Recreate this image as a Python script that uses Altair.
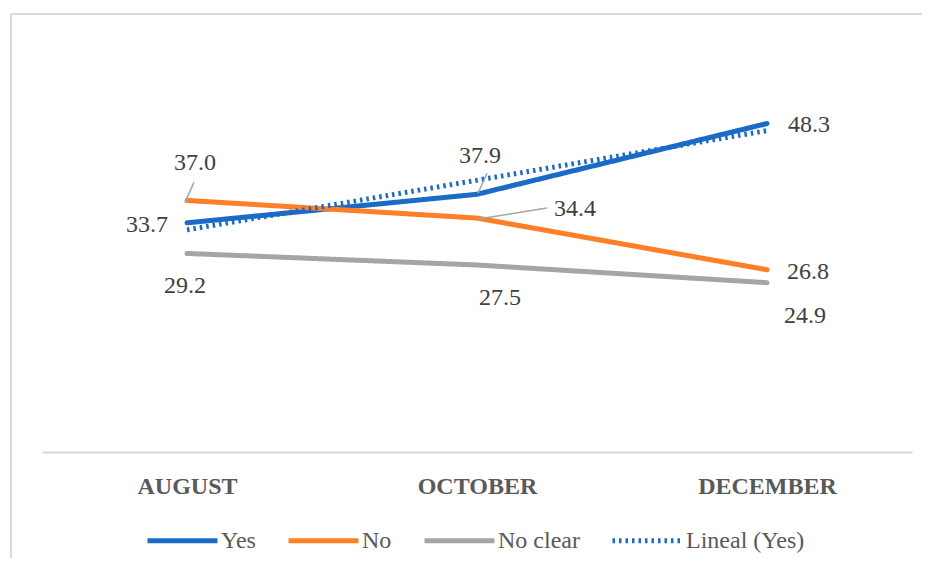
import altair as alt
import pandas as pd

# ---- data ----
months = ["AUGUST", "OCTOBER", "DECEMBER"]
series_names = ["Yes", "No", "No clear"]
yes_vals = [33.7, 37.9, 48.3]
no_vals = [37.0, 34.4, 26.8]
noclear_vals = [29.2, 27.5, 24.9]
trend_name = "Lineal (Yes)"

rows = []
for s, vals in zip(series_names, [yes_vals, no_vals, noclear_vals]):
    for i, v in enumerate(vals):
        rows.append({"series": s, "idx": i, "month": months[i], "value": v})
df = pd.DataFrame(rows)

# ---- style ----
W, H = 870, 408
FONT = "Liberation Serif"
legend_domain = series_names + [trend_name]
colors = ["#1B6BC6", "#FF7F27", "#A5A5A5", "#1B6BC6"]
dashes = [[1, 0], [1, 0], [1, 0], [2.5, 4]]
widths = [5, 5, 5, 2.5]

legend = alt.Legend(
    title=None, orient="none", legendX=103, legendY=459, direction="horizontal",
    symbolType="stroke", symbolSize=4900, labelFont=FONT, labelFontSize=24,
    labelColor="#595959", labelOffset=1, columnPadding=22, padding=0,
)

x_enc = alt.X(
    "idx:Q",
    scale=alt.Scale(domain=[-0.5, 2.5], nice=False, zero=False),
    axis=alt.Axis(
        values=[0, 1, 2], labelExpr=f"{months}[datum.value]", title=None,
        grid=False, ticks=False, domainColor="#D9D9D9", domainWidth=2,
        labelFont=FONT, labelFontWeight="bold", labelFontSize=24,
        labelColor="#595959", labelPadding=22,
    ),
)
y_enc = alt.Y("value:Q", scale=alt.Scale(domain=[0, 60], nice=False), axis=None)

color_enc = alt.Color("series:N", scale=alt.Scale(domain=legend_domain, range=colors), legend=legend)
dash_enc = alt.StrokeDash("series:N", scale=alt.Scale(domain=legend_domain, range=dashes), legend=legend)
width_enc = alt.StrokeWidth("series:N", scale=alt.Scale(domain=legend_domain, range=widths), legend=legend)

base = alt.Chart(df)

lines = base.mark_line(strokeCap="round", strokeJoin="round").encode(
    x=x_enc, y=y_enc, color=color_enc, strokeDash=dash_enc, strokeWidth=width_enc,
    detail="series:N",
)

trend = (
    base.transform_filter("datum.series == 'Yes'")
    .transform_regression("idx", "value", extent=[0, 2])
    .transform_calculate(series=f"'{trend_name}'")
    .mark_line()
    .encode(x=x_enc, y=y_enc, color=color_enc, strokeDash=dash_enc, strokeWidth=width_enc)
)

# data labels (series, idx, dx, dy, align)
label_specs = [
    ("Yes", 0, -19, 2, "right"),
    ("Yes", 1, 3, -38, "center"),
    ("Yes", 2, 21, 1, "left"),
    ("No", 0, 8, -37, "center"),
    ("No", 1, 77, -9, "left"),
    ("No", 2, 20, 2, "left"),
    ("No clear", 0, -2, 33, "center"),
    ("No clear", 1, 23, 33, "center"),
    ("No clear", 2, 38, 33, "center"),
]
label_layers = []
for s, i, dx, dy, al in label_specs:
    label_layers.append(
        base.transform_filter(f"datum.series == '{s}' && datum.idx == {i}")
        .mark_text(dx=dx, dy=dy, align=al, baseline="middle", font=FONT, fontSize=24, color="#404040")
        .encode(x=alt.X("idx:Q"), y=alt.Y("value:Q"), text=alt.Text("value:Q", format=".1f"))
    )

# leader lines (series, idx, x0, y0, x1, y1 offsets)
leader_specs = [
    ("No", 0, -2, 2, 7, -18),
    ("Yes", 1, 1, -1, 10, -21),
    ("No", 1, 1, 1, 70, -10),
]
leader_layers = []
for s, i, x0, y0, x1, y1 in leader_specs:
    leader_layers.append(
        base.transform_filter(f"datum.series == '{s}' && datum.idx == {i}")
        .mark_rule(color="#A6A6A6", strokeWidth=1.5, xOffset=x0, yOffset=y0, x2Offset=x1, y2Offset=y1)
        .encode(x=alt.X("idx:Q"), x2="idx:Q", y=alt.Y("value:Q"), y2="value:Q")
    )

# outer frame: only top and left edges are visible in the picture
frame_top = base.mark_rule(stroke="#D9D9D9", strokeWidth=2).encode(
    x=alt.value(-31), x2=alt.value(W + 10), y=alt.value(-30)
)
frame_left = base.mark_rule(stroke="#D9D9D9", strokeWidth=2).encode(
    x=alt.value(-31), y=alt.value(-30), y2=alt.value(H + 120)
)

chart = (
    alt.layer(frame_top, frame_left, lines, trend, *leader_layers, *label_layers)
    .properties(
        width=W, height=H,
        autosize=alt.AutoSizeParams(type="none"),
        padding={"left": 34, "top": 36, "right": 10, "bottom": 106},
        background="white",
    )
    .configure_view(stroke=None)
)

chart.save("out.html", embed_options={"renderer": "svg", "actions": False})
